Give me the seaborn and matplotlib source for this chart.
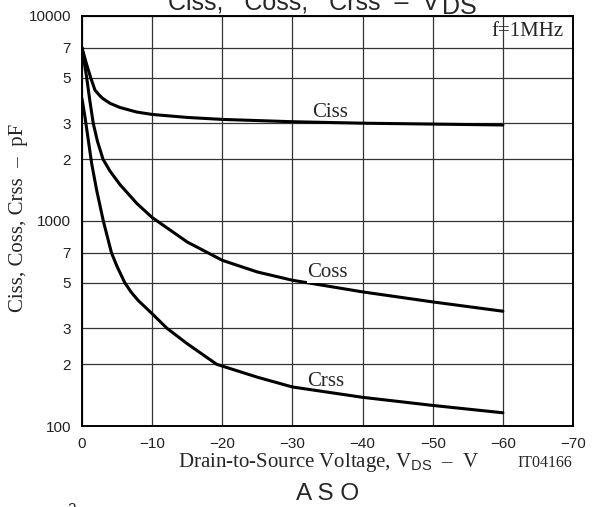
import numpy as np
import pandas as pd
import seaborn as sns
import matplotlib.pyplot as plt
from matplotlib.ticker import NullLocator

# values (VDS in volts, capacitance in pF)
ciss_v = [0, -0.6, -1.24, -1.85, -2.5, -3.0, -4.0, -5.4, -7.8, -10, -15, -20, -30, -40, -50, -60]
ciss_c = [7000, 5900, 5000, 4350, 4100, 3950, 3750, 3580, 3400, 3310, 3200, 3130, 3050, 3000, 2970, 2940]

coss_v = [0, -0.67, -1.1, -1.6, -2.2, -3.0, -4.0, -5.45, -7.8, -10, -15, -20, -25, -30, -40, -50, -60]
coss_c = [7000, 5000, 3900, 3000, 2450, 2000, 1750, 1500, 1220, 1040, 790, 643, 564, 514, 451, 403, 363]

crss_v = [0, -0.43, -0.9, -1.38, -2.09, -3.04, -4.2, -5.0, -6.1, -7.0, -8, -10, -12.1, -15, -19.2, -25, -30, -40, -50, -60]
crss_c = [3950, 3210, 2480, 1905, 1413, 1000, 700, 600, 500, 450, 410, 353, 300, 252, 200, 173, 155, 138, 126, 116]

x_ticks = [0, -10, -20, -30, -40, -50, -60, -70]
y_ticks = [100, 200, 300, 500, 700, 1000, 2000, 3000, 5000, 7000, 10000]
y_tick_labels = ['100', '2', '3', '5', '7', '1000', '2', '3', '5', '7', '10000']

df = pd.concat([
    pd.DataFrame({'V': ciss_v, 'C': ciss_c, 'curve': 'Ciss'}),
    pd.DataFrame({'V': coss_v, 'C': coss_c, 'curve': 'Coss'}),
    pd.DataFrame({'V': crss_v, 'C': crss_c, 'curve': 'Crss'}),
])

sns.set_style('white')
plt.rcParams['font.family'] = ['Liberation Sans', 'DejaVu Sans']
plt.rcParams['mathtext.fontset'] = 'custom'
plt.rcParams['mathtext.rm'] = 'Liberation Sans'
plt.rcParams['axes.unicode_minus'] = True

serif = ['Liberation Serif', 'DejaVu Serif']

fig = plt.figure(figsize=(6.03, 5.07), dpi=100)
ax = fig.add_axes([82 / 603, 1 - 426 / 507, 491 / 603, 410 / 507])

sns.lineplot(data=df, x='V', y='C', hue='curve', palette=['black'] * 3,
             legend=False, lw=2.2, ax=ax)

ax.set_yscale('log')
ax.set_ylim(100, 10000)
ax.set_xlim(0, -70)
ax.set_yticks(y_ticks)
ax.set_yticklabels(y_tick_labels)
ax.yaxis.set_minor_locator(NullLocator())
ax.set_xticks(x_ticks)
ax.set_xticklabels(['0' if t == 0 else '\u2212' + str(abs(t)) for t in x_ticks])
ax.tick_params(length=0, labelsize=11, pad=8, colors='#222222')
ax.grid(True, color='#333333', lw=0.9)
for s in ax.spines.values():
    s.set_color('black')
    s.set_linewidth(1.4)

# curve names
ax.text(-35.3, 3400, 'Ciss', fontsize=15, family=serif, ha='center', va='center')
ax.text(-35.0, 560, 'Coss', fontsize=15, family=serif, ha='center', va='center',
        bbox=dict(facecolor='white', edgecolor='none', pad=0.5))
ax.text(-34.8, 165, 'Crss', fontsize=15, family=serif, ha='center', va='center')
ax.text(0.98, 0.961, 'f=1MHz', transform=ax.transAxes, fontsize=15, family=serif,
        ha='right', va='center')

ax.set_xlabel('Drain-to-Source Voltage, V$_{\\rm DS}$  \u2013  V', fontsize=15, family=serif)
ax.xaxis.set_label_coords((329 - 82) / 491, (426 - 463) / 410)
ax.xaxis.label.set_va('center')
ax.set_ylabel('Ciss, Coss, Crss  \u2013  pF', fontsize=15, family=serif)
ax.yaxis.set_label_coords((18 - 82) / 491, (426 - 218) / 410)
ax.yaxis.label.set_va('center')

fig.text(572 / 603, 1 - 463 / 507, 'IT04166', fontsize=11.5, family=serif,
         ha='right', va='center')
# chart title, mostly above the top edge like in the scan
fig.text(439 / 603, 1 - 9.5 / 507, 'Ciss,   Coss,   Crss  \u2013  V', fontsize=18,
         ha='right', va='baseline')
fig.text(442 / 603, 1 - 13.5 / 507, 'DS', fontsize=18, ha='left', va='baseline')
fig.text(328 / 603, 1 - 500 / 507, 'A S O', fontsize=17.5, ha='center', va='baseline')
fig.text(72 / 603, 1 - 502 / 507, '2', fontsize=11, ha='center', va='top')

fig.savefig('out.png', dpi=100)
